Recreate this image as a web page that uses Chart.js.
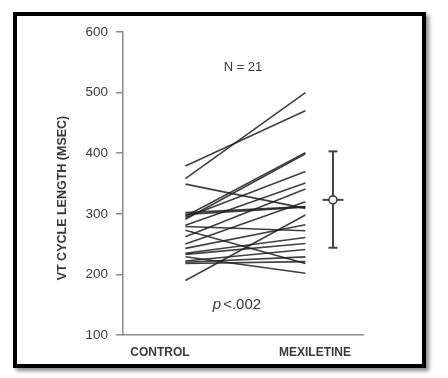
<!DOCTYPE html>
<html>
<head>
<meta charset="utf-8">
<script src="https://cdn.jsdelivr.net/npm/chart.js@4.4.0/dist/chart.umd.min.js"></script>
<style>
  html, body { margin: 0; padding: 0; background: #fff; }
  #wrap { position: relative; width: 448px; height: 378px; overflow: hidden; }
  #frame {
    position: absolute; left: 13px; top: 12px; width: 405px; height: 348px;
    border: 4px solid #000; box-shadow: 3px 3px 4px rgba(0,0,0,0.45);
  }
  #chart { position: absolute; left: 0; top: 0; }
</style>
</head>
<body>
<div id="wrap">
  <div id="frame"></div>
  <canvas id="chart" width="448" height="378"></canvas>
</div>
<script>
// Categories and x positions (linear x axis 0..100)
const categories = ['CONTROL', 'MEXILETINE'];
const categoryX = [26, 76];
const labelX = [15.4, 80];
const yTicks = [100, 200, 300, 400, 500, 600];

// Paired VT cycle lengths (msec), one pair per patient
const controlValues = [379, 358, 349, 302, 299, 296, 291, 294, 281, 262, 250, 279, 273, 243, 235, 233, 229, 222, 220, 218, 190];
const mexiletineValues = [470, 500, 309, 312, 311, 401, 399, 370, 351, 341, 320, 272, 218, 282, 261, 251, 202, 241, 229, 221, 298];

// Mexiletine mean and spread
const errorX = 87.5;
const mexMean = 323;
const mexLow = 244;
const mexHigh = 403;

const lineColor = 'rgba(30,30,30,0.85)';
const axisColor = '#8a8a8a';
const textColor = '#3a3a3a';
const font = "'Liberation Sans', Arial, sans-serif";

const pairDatasets = controlValues.map((c, i) => ({
  type: 'line',
  order: 2,
  data: [{ x: categoryX[0], y: c }, { x: categoryX[1], y: mexiletineValues[i] }],
  borderColor: lineColor,
  borderWidth: 1.6,
  pointRadius: 0,
  fill: false
}));

const errorDatasets = [
  {
    type: 'line',
    order: 3,
    data: [{ x: errorX, y: mexLow }, { x: errorX, y: mexHigh }],
    borderColor: '#444',
    borderWidth: 2,
    pointStyle: 'line',
    pointRadius: 4.5,
    pointBorderColor: '#444',
    pointBorderWidth: 2
  },
  {
    type: 'scatter',
    order: 1,
    data: [{ x: errorX, y: mexMean }],
    pointStyle: 'line',
    pointRadius: 10.5,
    pointBorderColor: '#444',
    pointBorderWidth: 2
  },
  {
    type: 'scatter',
    order: 0,
    data: [{ x: errorX, y: mexMean }],
    pointStyle: 'circle',
    pointRadius: 4,
    pointBackgroundColor: '#fff',
    pointBorderColor: '#444',
    pointBorderWidth: 1.6
  }
];

const textPlugin = {
  id: 'annotText',
  afterDraw(chart) {
    const { ctx, scales: { x, y } } = chart;
    ctx.save();
    ctx.fillStyle = textColor;
    ctx.textAlign = 'center';
    ctx.textBaseline = 'middle';

    // y axis title
    ctx.save();
    ctx.translate(63, y.getPixelForValue(326));
    ctx.rotate(-Math.PI / 2);
    ctx.font = 'bold 12.5px ' + font;
    ctx.fillText('VT CYCLE LENGTH (MSEC)', 0, 0);
    ctx.restore();

    ctx.font = '13px ' + font;
    ctx.fillText('N = 21', x.getPixelForValue(50), y.getPixelForValue(541));

    // p < .002 with italic p
    const px = x.getPixelForValue(47.5);
    const py = y.getPixelForValue(150);
    ctx.textAlign = 'left';
    ctx.font = 'italic 15px ' + font;
    const pw = ctx.measureText('p').width;
    ctx.font = '15px ' + font;
    const rest = '<.002';
    const rw = ctx.measureText(rest).width;
    const start = px - (pw + 2 + rw) / 2;
    ctx.font = 'italic 15px ' + font;
    ctx.fillText('p', start, py);
    ctx.font = '15px ' + font;
    ctx.fillText(rest, start + pw + 2, py);
    ctx.restore();
  }
};

new Chart(document.getElementById('chart'), {
  data: { datasets: [...pairDatasets, ...errorDatasets] },
  options: {
    responsive: false,
    animation: false,
    layout: { padding: { top: 32, right: 85, bottom: 0, left: 0 } },
    plugins: { legend: { display: false }, tooltip: { enabled: false } },
    scales: {
      x: {
        type: 'linear',
        min: 0,
        max: 100,
        afterFit: s => { s.height = 43; },
        afterBuildTicks: s => { s.ticks = labelX.map(v => ({ value: v })); },
        border: { color: axisColor, width: 1.5 },
        grid: { display: true, drawOnChartArea: false, drawTicks: false, color: axisColor },
        ticks: {
          padding: 10,
          color: textColor,
          font: { family: font, size: 12, weight: 'bold' },
          callback: v => categories[labelX.indexOf(v)]
        }
      },
      y: {
        min: 100,
        max: 600,
        afterFit: s => { s.width = 123; },
        afterBuildTicks: s => { s.ticks = yTicks.map(v => ({ value: v })); },
        border: { color: axisColor, width: 1.5 },
        grid: { drawOnChartArea: false, drawTicks: true, tickLength: 7, color: axisColor, lineWidth: 1.5 },
        ticks: {
          padding: 8,
          color: textColor,
          font: { family: font, size: 13.5 }
        }
      }
    }
  },
  plugins: [textPlugin]
});
</script>
</body>
</html>
